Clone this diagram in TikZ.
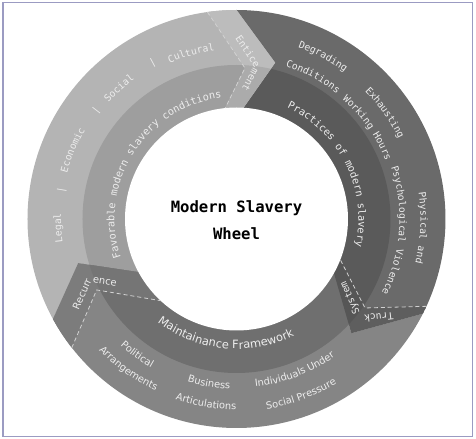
\documentclass[tikz,border=0pt]{standalone}
\usepackage{fontspec}
\usepackage{tikz}
\usetikzlibrary{calc,decorations.text}

\newfontfamily\wheelmono{DejaVu Sans Mono}
\newfontfamily\wheelsans{DejaVu Sans}

\definecolor{framecol}{HTML}{9B9BC2}
\definecolor{favouter}{HTML}{B4B4B4}
\definecolor{favmid}{HTML}{9E9E9E}
\definecolor{favband}{HTML}{BCBCBC}
\definecolor{favbandmid}{HTML}{ABABAB}
\definecolor{pracouter}{HTML}{6A6A6A}
\definecolor{pracmid}{HTML}{5A5A5A}
\definecolor{pracband}{HTML}{5E5E5E}
\definecolor{pracbandmid}{HTML}{565656}
\definecolor{maintouter}{HTML}{858585}
\definecolor{maintmid}{HTML}{6F6F6F}
\definecolor{maintband}{HTML}{7C7C7C}
\definecolor{maintbandmid}{HTML}{757575}
\definecolor{ringtxt}{HTML}{EDEDED}
\definecolor{dashcol}{HTML}{D2D2D2}

\newcommand{\titlefont}{\wheelmono\bfseries\fontsize{11.7}{20.5}\selectfont}
\newcommand{\midmono}{\wheelmono\fontsize{7.7}{9}\selectfont}
\newcommand{\outmono}{\wheelmono\fontsize{7.3}{9}\selectfont}
\newcommand{\botsans}{\wheelsans\fontsize{7.4}{9}\selectfont}
\newcommand{\framesans}{\wheelsans\fontsize{8.6}{10}\selectfont}

% text on a clockwise arc (tops outward) / counter-clockwise arc (tops inward)
\newcommand{\cwtext}[4]{\path[decorate, decoration={text along path, text align=center, text={|\color{ringtxt}#1|#4}}] ({#2+70}:#3) arc[start angle={#2+70}, end angle={#2-70}, radius=#3];}
\newcommand{\ccwtext}[4]{\path[decorate, decoration={text along path, text align=center, text={|\color{ringtxt}#1|#4}}] ({#2-70}:#3) arc[start angle={#2-70}, end angle={#2+70}, radius=#3];}

\begin{document}
\begin{tikzpicture}[x=0.75pt, y=0.75pt]
		\tikzstyle{sepmark}=[text=ringtxt, font=\outmono, inner sep=0pt]
		\tikzstyle{dashline}=[draw=dashcol, line width=0.6pt, dash pattern=on 3pt off 2.2pt]
		
		\useasboundingbox (-236.5,-220) rectangle (239.5,219);
		\draw[framecol, line width=0.8pt] (-233.5,-217.5) rectangle (236,216.5);
		
		% Enticement chevron (solid edge, dashed edge)
		\coordinate (Eso) at (90:209);
		\coordinate (Est) at (76.1:161);
		\coordinate (Esi) at (86.4:111.5);
		\coordinate (Edo) at (98:209);
		\coordinate (Edc) at (86.8:151.2);
		\coordinate (Edi) at (95.8:111.5);
		
		% Truck System chevron
		\coordinate (Tso) at (-26.9:209);
		\coordinate (Tst) at (-44.8:162);
		\coordinate (Tsi) at (-29:111.5);
		\coordinate (Tdo) at (-24.7:209);
		\coordinate (Tdc) at (-34.7:156.3);
		\coordinate (Tdi) at (-21.4:111.5);
		
		% Recurrence chevron
		\coordinate (Rso) at (208.6:209);
		\coordinate (Rst) at (195.6:164.3);
		\coordinate (Rsi) at (208.5:111.5);
		\coordinate (Rdo) at (218:209);
		\coordinate (Rdc) at (206.9:156.8);
		\coordinate (Rdi) at (227.1:111.5);
		
		% edges pushed past the rings
		\foreach \c in {E,T,R} {
			\coordinate (\c so2) at ($(\c st)!1.3!(\c so)$);
			\coordinate (\c si2) at ($(\c st)!1.4!(\c si)$);
			\coordinate (\c do2) at ($(\c dc)!1.3!(\c do)$);
			\coordinate (\c di2) at ($(\c dc)!1.4!(\c di)$);
			\coordinate (\c ta) at ($(\c do)!.3!(\c so)$);
			\coordinate (\c tb) at ($(\c dc)!.3!(\c st)$);
			\coordinate (\c tc) at ($(\c di)!.3!(\c si)$);
			\coordinate (\c t0) at ($(\c ta)!.5!(\c tb)$);
		}
		
		\tikzstyle{segfav}=[insert path={(Eso2) -- (120:300) -- (165:300) -- (200:300) -- (Rso2) -- (Rst) -- (Rsi2) -- (0,0) -- (Esi2) -- (Est) -- cycle}]
		\tikzstyle{segprac}=[insert path={(Tso2) -- (0:300) -- (45:300) -- (85:300) -- (Eso2) -- (Est) -- (Esi2) -- (0,0) -- (Tsi2) -- (Tst) -- cycle}]
		\tikzstyle{segmaint}=[insert path={(Rso2) -- (250:300) -- (300:300) -- (Tso2) -- (Tst) -- (Tsi2) -- (0,0) -- (Rsi2) -- (Rst) -- cycle}]
		
		\begin{scope}
			\clip (0,0) circle (209);
			% Favorable conditions
			\fill[favouter, segfav];
			\begin{scope}
				\clip[segfav];
				\fill[favmid] (0,0) circle (154);
			\end{scope}
			% Practices
			\fill[pracouter, segprac];
			\begin{scope}
				\clip[segprac];
				\fill[pracmid] (0,0) circle (154);
			\end{scope}
			% Maintainance
			\fill[maintouter, segmaint];
			\begin{scope}
				\clip[segmaint];
				\fill[maintmid] (0,0) circle (154);
			\end{scope}
			% Bands
			\begin{scope}
				\clip (Edo2) -- (Edc) -- (Edi2) -- (Esi2) -- (Est) -- (Eso2) -- cycle;
				\fill[favband] (0,0) circle (209);
				\fill[favbandmid] (0,0) circle (154);
			\end{scope}
			\begin{scope}
				\clip (Tdo2) -- (Tdc) -- (Tdi2) -- (Tsi2) -- (Tst) -- (Tso2) -- cycle;
				\fill[pracband] (0,0) circle (209);
				\fill[pracbandmid] (0,0) circle (154);
			\end{scope}
			\begin{scope}
				\clip (Rdo2) -- (Rdc) -- (Rdi2) -- (Rsi2) -- (Rst) -- (Rso2) -- cycle;
				\fill[maintband] (0,0) circle (209);
				\fill[maintbandmid] (0,0) circle (154);
			\end{scope}
		\end{scope}
		
		% Hub
		\fill[white] (0,0) circle (111.5);
		\node[font=\titlefont, align=center] (title) at (0,-1.5) {Modern Slavery\\Wheel};
		
		% Dashed edges
		\foreach \c in {E,T,R}
		\draw[dashline] (\c do) -- (\c dc) -- (\c di);
		
		% Band texts
		\path[decorate, decoration={text along path, text={|\color{ringtxt}\outmono|Enticement}}] (Et0) -- (Etb) -- (Etc);
		\path[decorate, decoration={text along path, text={|\color{ringtxt}\outmono|Truck System}}] (Tt0) -- (Ttb) -- (Ttc);
		\path[decorate, decoration={text along path, text={|\color{ringtxt}\botsans|Recurrence}}] (Rt0) -- (Rtb) -- (Rtc);
		
		% Middle ring
		\cwtext{\midmono}{147.75}{122}{Favorable modern slavery conditions}
		\cwtext{\midmono}{26.3}{122}{Practices of modern slavery}
		\ccwtext{\framesans}{264.5}{130}{Maintainance Framework}
		
		% Outer ring, favorable
		\cwtext{\outmono}{182.9}{175.5}{Legal}
		\cwtext{\outmono}{157.2}{175.5}{Economic}
		\cwtext{\outmono}{131.9}{173}{Social}
		\cwtext{\outmono}{105.3}{169.5}{Cultural}
		\foreach \a [count=\i] in {170.6,142.4,118.2}
		\node[sepmark, rotate=\a-90] (sep\i) at (\a:177) {|};
		
		% Outer ring, practices
		\cwtext{\outmono}{62}{182.5}{Degrading}
		\cwtext{\outmono}{61.7}{160.5}{Conditions}
		\cwtext{\outmono}{35.6}{181}{Exhausting}
		\cwtext{\outmono}{34.9}{160}{Working Hours}
		\cwtext{\outmono}{-2.8}{184}{Physical and}
		\cwtext{\outmono}{-4.2}{163}{Psychological Violence}
		
		% Outer ring, maintainance
		\ccwtext{\botsans}{233.8}{171.5}{Political}
		\ccwtext{\botsans}{234.2}{190}{Arrangements}
		\ccwtext{\botsans}{260.5}{170}{Business}
		\ccwtext{\botsans}{260.6}{190.5}{Articulations}
		\ccwtext{\botsans}{291}{169}{Individuals Under}
		\ccwtext{\botsans}{290.2}{192.5}{Social Pressure}
\end{tikzpicture}
\end{document}
